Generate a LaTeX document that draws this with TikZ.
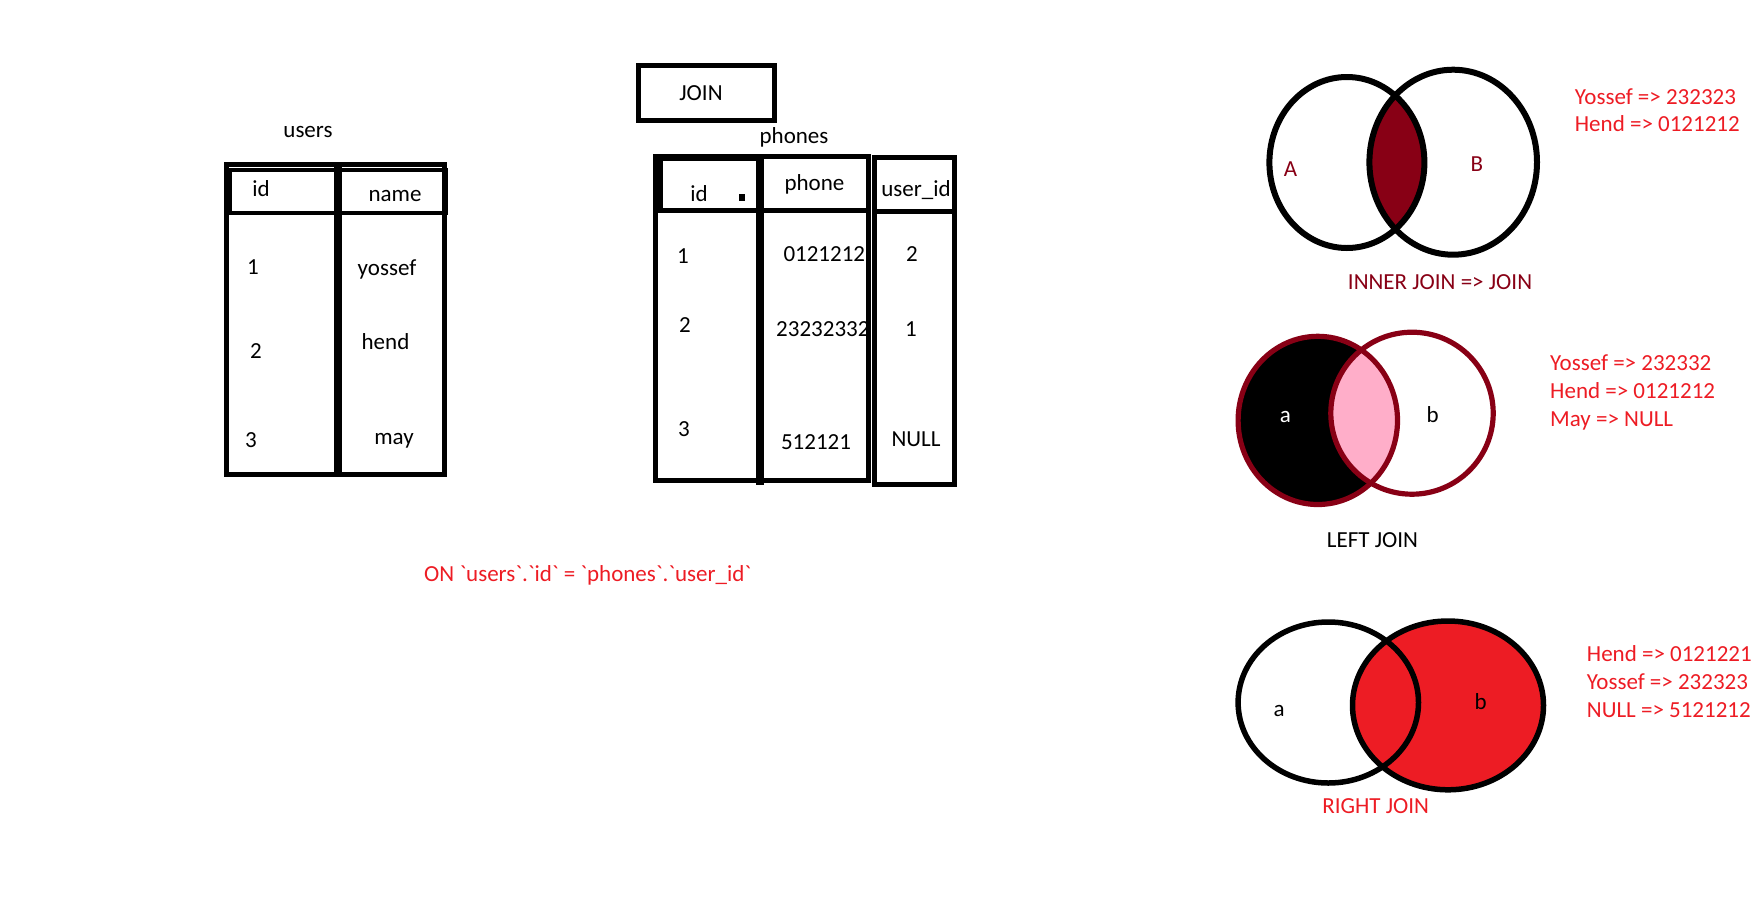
\documentclass[tikz,border=0pt]{standalone}
\usepackage{fontspec}
\setmainfont{Carlito}[Ligatures=TeXOff]
\definecolor{darkred}{HTML}{880015}
\definecolor{paintred}{HTML}{ED1C24}
\definecolor{rose}{HTML}{FFAEC9}
\tikzset{
  txt/.style = {inner sep=0pt, anchor=base, font=\fontsize{23}{27}\selectfont},
  note/.style = {txt, anchor=base west, text=paintred},
  frame/.style = {draw, line width=5pt},
  venn/.style = {line width=6pt}
}

\begin{document}
\begin{tikzpicture}[x=1pt,y=-1pt]
  \useasboundingbox (0,0) rectangle (1761,903);
  % users table
  \node[txt] (users) at (308,137) {users};
  \foreach \n/\x/\y/\t in {uid/261/196.7/id, uname/395/201.7/name, u1/253/274/1, uyossef/387/275.7/yossef,
                           u2/256/358/2, uhend/385.5/349.3/hend, u3/251/447/3, umay/394/444/may}
    \node[txt] (\n) at (\x,\y) {\t};
  \draw[frame] (226.5,164) rectangle (444,474);
  \draw[frame, line width=4pt] (229.5,170) rectangle (445.5,212.5);
  \draw[line width=8pt] (338,164) -- (338,474);

  % join box
  \node[txt] (join) at (701,100) {JOIN};
  \draw[frame] (638.3,65) rectangle (774.5,120.8);

  % phones table
  \node[txt] (phones) at (794,143.3) {phones};
  \foreach \n/\x/\y/\t in {pid/699/201.7/id, pphone/814.5/190/phone, puser/916/196.7/user\_id,
                           p1/683/263.3/1, p2/685/332.7/2, p3/684/436.7/3, ph3/816/449.3/512121,
                           pu1/912/261.7/2, pu2/911/336/1, pu3/916/446.7/NULL}
    \node[txt] (\n) at (\x,\y) {\t};
  \node[txt, anchor=base west] (ph1) at (783.3,261.7) {0121212};
  \node[txt, anchor=base west] (ph2) at (776,336.7) {23232332};
  \draw[frame] (655,156) rectangle (868.5,480.5);
  \draw[frame] (660.3,158) rectangle (760,210.8);
  \draw[frame] (760,210.8) -- (868.5,210.8);
  \draw[line width=8pt] (760,157) -- (760,485);
  \draw[frame] (874.5,157.5) rectangle (954,484);
  \draw[frame] (874.5,211) -- (954,211);
  \fill (739,194.3) rectangle (745,200.7);

  \node[txt, text=paintred] (on) at (587.7,581.7) {ON `users`.`id` = `phones`.`user\_id`};

  % inner join
  \begin{scope}
    \clip (1346.9,162.5) ellipse [x radius=77.5, y radius=85.5];
    \fill[darkred] (1453.2,162.2) ellipse [x radius=83.8, y radius=92.5];
  \end{scope}
  \draw[venn] (1346.9,162.5) ellipse [x radius=77.5, y radius=85.5];
  \draw[venn] (1453.2,162.2) ellipse [x radius=83.8, y radius=92.5];
  \node[txt, text=darkred] (iA) at (1290.6,176.7) {A};
  \node[txt, text=darkred] (iB) at (1476.9,171.7) {B};
  \node[txt, text=darkred] (inner) at (1440,289.3) {INNER JOIN => JOIN};
  \foreach \t [count=\i from 0] in {Yossef => 232323, Hend => 0121212}
    \node[note] (inner\i) at (1574.7,{104.3+27.4*\i}) {\t};

  % left join
  \fill (1317.8,420.4) ellipse [x radius=79.7, y radius=84.1];
  \begin{scope}
    \clip (1317.8,420.4) ellipse [x radius=79.7, y radius=84.1];
    \fill[rose] (1412,413.2) ellipse [x radius=81.2, y radius=81];
  \end{scope}
  \draw[venn, darkred, line width=5.2pt] (1317.8,420.4) ellipse [x radius=79.7, y radius=84.1];
  \draw[venn, darkred, line width=5.2pt] (1412,413.2) ellipse [x radius=81.2, y radius=81];
  \node[txt, text=white] (la) at (1285.3,422.7) {a};
  \node[txt] (lb) at (1432.7,422.7) {b};
  \node[txt] (left) at (1372.5,547.7) {LEFT JOIN};
  \foreach \t [count=\i from 0] in {Yossef => 232332, Hend => 0121212, May => NULL}
    \node[note] (left\i) at (1550,{370.7+28*\i}) {\t};

  % right join
  \fill[paintred] (1448,705.4) ellipse [x radius=95.5, y radius=84.4];
  \draw[venn, line width=5.5pt] (1328.3,702.5) ellipse [x radius=90.2, y radius=80.5];
  \draw[venn, line width=5.5pt] (1448,705.4) ellipse [x radius=95.5, y radius=84.4];
  \node[txt] (ra) at (1279,716.7) {a};
  \node[txt] (rb) at (1480.7,709.3) {b};
  \node[txt, text=paintred] (right) at (1375.7,813.3) {RIGHT JOIN};
  \foreach \t [count=\i from 0] in {Hend => 0121221, Yossef => 232323, NULL => 5121212}
    \node[note] (right\i) at (1586.7,{661.7+27.8*\i}) {\t};
\end{tikzpicture}
\end{document}
